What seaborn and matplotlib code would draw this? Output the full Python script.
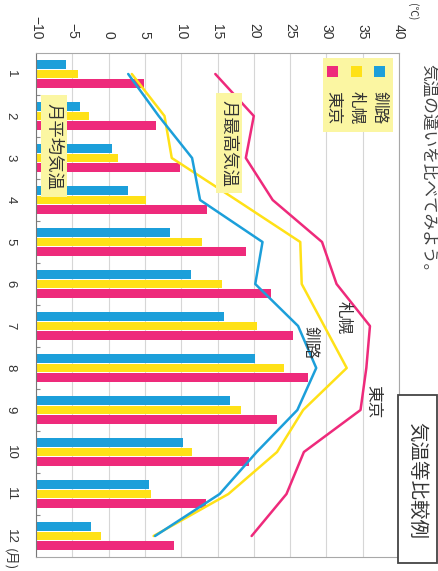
import numpy as np
import pandas as pd
import matplotlib
matplotlib.use("Agg")
import matplotlib.pyplot as plt
import seaborn as sns
from matplotlib.patches import Rectangle

# ---------------- data ----------------
months = ["1", "2", "3", "4", "5", "6", "7", "8", "9", "10", "11", "12"]
cities = ["釧路", "札幌", "東京"]

# monthly mean temperature (bars)
mean_kushiro = [-5.9, -3.9, 0.5, 2.7, 8.4, 11.4, 15.9, 20.2, 16.7, 10.2, 5.6, -2.4]
mean_sapporo = [-4.2, -2.7, 1.3, 5.1, 12.8, 15.6, 20.5, 24.2, 18.3, 11.5, 5.9, -1.1]
mean_tokyo = [4.9, 6.5, 9.8, 13.5, 18.9, 22.4, 25.4, 27.4, 23.2, 19.4, 13.4, 9.0]

# monthly maximum temperature (lines)
max_kushiro = [2.7, 6.9, 11.5, 12.6, 21.2, 20.2, 26.1, 28.6, 26.0, 20.4, 15.3, 6.4]
max_sapporo = [3.2, 7.7, 8.7, 17.6, 26.4, 26.6, 29.7, 32.8, 26.8, 23.2, 16.5, 6.2]
max_tokyo = [14.7, 20.0, 18.9, 22.6, 29.4, 31.4, 36.0, 35.5, 34.7, 26.9, 24.5, 19.7]

temp_ticks = [-10, -5, 0, 5, 10, 15, 20, 25, 30, 35, 40]

colors = {"釧路": "#1C9FDA", "札幌": "#FFE117", "東京": "#EE2A7B"}
box_yellow = "#FBF6A2"
ink = "#333333"

# ---------------- figure ----------------
W, H = 438, 571
sns.set_theme(style="white")
plt.rcParams["font.family"] = ["Liberation Sans", "Noto Sans CJK JP", "DejaVu Sans"]
JP = ["Noto Sans CJK JP", "DejaVu Sans"]

fig = plt.figure(figsize=(W / 100, H / 100), dpi=100)
fig.patch.set_facecolor("white")


def fx(x):
    return x / W


def fy(y):
    return 1 - y / H


ax = fig.add_axes([fx(36), fy(557), (399 - 36) / W, (557 - 53) / H])
ax.set_facecolor("white")

mean_df = pd.DataFrame({
    "month": months * 3,
    "city": np.repeat(cities, len(months)),
    "temp": mean_kushiro + mean_sapporo + mean_tokyo,
})
sns.barplot(data=mean_df, x="temp", y="month", hue="city", order=months,
            hue_order=cities, palette=colors, orient="y", width=0.67,
            gap=0.06, saturation=1, legend=False, ax=ax, zorder=2)
# bars start from the left end of the temperature axis
base = temp_ticks[0]
for p in ax.patches:
    w = p.get_width()
    p.set_x(base)
    p.set_width(w - base)
    p.set_linewidth(0)

line_order = ["東京", "札幌", "釧路"]
max_df = pd.DataFrame({
    "pos": [months.index(m) for m in months] * 3,
    "city": np.repeat(line_order, len(months)),
    "temp": max_tokyo + max_sapporo + max_kushiro,
})
sns.lineplot(data=max_df, x="temp", y="pos", hue="city", hue_order=line_order,
             palette=colors, orient="y", estimator=None, legend=False,
             linewidth=1.8, ax=ax, zorder=4)

ax.set_xlim(temp_ticks[0], temp_ticks[-1])
ax.set_ylim(len(months) - 0.5, -0.5)
ax.set_xlabel("")
ax.set_ylabel("")

ax.set_xticks(temp_ticks)
ax.set_xticklabels([str(t).replace("-", "\u2212") for t in temp_ticks])
ax.xaxis.tick_top()
ax.tick_params(axis="x", which="both", length=0, pad=10, labelsize=10,
               labelrotation=-90, colors=ink, top=False, bottom=False)

ax.set_yticks(range(len(months)))
ax.set_yticklabels(months)
ax.tick_params(axis="y", which="major", length=0, pad=14, labelsize=9.5,
               labelrotation=-90, colors=ink)
for lbl in ax.get_yticklabels():
    lbl.set_va("center")
ax.set_yticks(np.arange(0.5, len(months) - 1, 1), minor=True)
ax.tick_params(axis="y", which="minor", left=True, length=3, width=0.8,
               direction="in", color="#888888")

ax.grid(axis="x", color="#D6D6D6", linewidth=0.8)
ax.grid(axis="y", visible=False)
ax.set_axisbelow(True)
for side, sp in ax.spines.items():
    sp.set_visible(True)
    sp.set_color("#A8A8A8")
    sp.set_linewidth(0.8)
ax.spines["left"].set_color("#777777")


def vtext(x, y, s, size, color=ink, family=JP, **kw):
    kw.setdefault("ha", "center")
    kw.setdefault("va", "center")
    fig.text(fx(x), fy(y), s, rotation=-90, fontsize=size, family=family,
             color=color, zorder=7, **kw)


def fbox(x0, y0, x1, y1, fc, ec="none", lw=0):
    fig.patches.append(Rectangle((fx(x0), fy(y1)), (x1 - x0) / W, (y1 - y0) / H,
                                 transform=fig.transFigure, facecolor=fc,
                                 edgecolor=ec, linewidth=lw, zorder=5))


# label boxes
fbox(41, 95, 67, 197, box_yellow)
vtext(54, 146, "月平均気温", 12.5)
fbox(216, 93, 242, 193, box_yellow)
vtext(229, 143, "月最高気温", 12.5)

# legend box (built by hand because it is rotated)
fbox(322.5, 58, 392.5, 132, box_yellow)
leg_x = {"東京": 332.5, "札幌": 356, "釧路": 379.5}
for c in cities:
    fbox(leg_x[c] - 5.5, 66, leg_x[c] + 5.5, 77, colors[c])
    vtext(leg_x[c], 108, c, 12)

# line labels
vtext(373, 402, "東京", 12)
vtext(343, 318, "札幌", 12)
vtext(310, 343, "釧路", 12)

# title box
fbox(398, 395, 437, 563, "white", ec="#444444", lw=1.3)
vtext(417, 480, "気温等比較例", 14)

# units
vtext(412, 12, "(℃)", 7.5)
vtext(10, 548, "(月)", 9.5, va="top")

# page text along the right edge
vtext(428.5, 172, "気温の違いを比べてみよう。", 12, color="#444444")

fig.savefig("out.png", dpi=100, facecolor="white")
